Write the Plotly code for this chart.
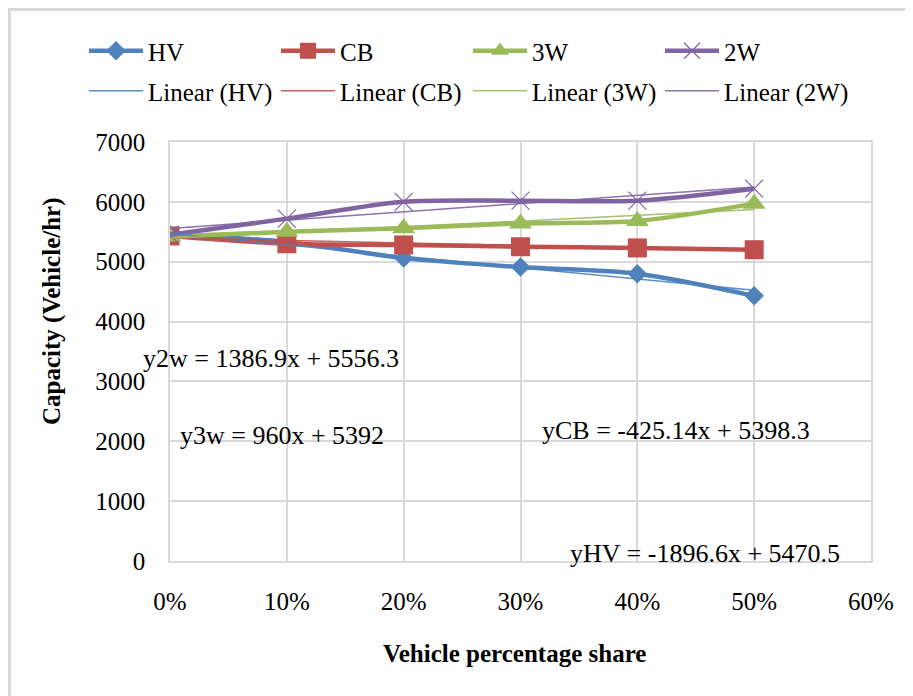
import plotly.graph_objects as go

# ---- data ----
share = [0.0, 0.1, 0.2, 0.3, 0.4, 0.5]
hv = [5450, 5330, 5060, 4910, 4800, 4430]
cb = [5430, 5300, 5280, 5250, 5230, 5200]
w3 = [5420, 5500, 5560, 5640, 5680, 5970]
w2 = [5450, 5720, 6000, 6020, 6020, 6220]

series_names = ["HV", "CB", "3W", "2W"]
series_vals = [hv, cb, w3, w2]
colors = ["#4F81BD", "#C0504D", "#9BBB59", "#8064A2"]
symbols = ["diamond", "square", "triangle-up", "x-thin-open"]
msizes = [15, 19, 20, 18]

# trendline coefficients (slope, intercept) as shown on the chart
slopes = [-1896.6, -425.14, 960, 1386.9]
intercepts = [5470.5, 5398.3, 5392, 5556.3]
eq_labels = ["yHV", "yCB", "y3w", "y2w"]

FONT = "Liberation Serif"
W, H = 913, 696
L, R, T, B = 162, 50, 134, 143
PW, PH = W - L - R, H - T - B


def px_x(p):
    return (p - L) / PW


def px_y(p):
    return (H - B - p) / PH


fig = go.Figure()

for name, vals, c, s, ms in zip(series_names, series_vals, colors, symbols, msizes):
    mk = dict(symbol=s, size=ms, color=c)
    if s == "x-thin-open":
        mk["line"] = dict(color=c, width=1.2)
    fig.add_trace(go.Scatter(
        x=share, y=vals, name=name, mode="lines+markers",
        line=dict(color=c, width=4.5, shape="spline", smoothing=0.8),
        marker=mk, legend="legend"))

for name, c, m, b in zip(series_names, colors, slopes, intercepts):
    xs = [share[0], share[-1]]
    ys = [m * x + b for x in xs]
    fig.add_trace(go.Scatter(
        x=xs, y=ys, name=f"Linear ({name})", mode="lines",
        line=dict(color=c, width=1.5), opacity=0.9, legend="legend2"))


def fmt(v):
    return f"{v:g}"


def eq_text(lbl, m, b):
    sign = "+" if b >= 0 else "-"
    return f"{lbl} = {fmt(m)}x {sign} {fmt(abs(b))}"


# equation label positions (pixel left edge, pixel center y)
eq_pos = {"yHV": (560, 545), "yCB": (532, 422), "y3w": (170, 427), "y2w": (133, 350)}
for lbl, m, b in zip(eq_labels, slopes, intercepts):
    x0, y0 = eq_pos[lbl]
    fig.add_annotation(x=px_x(x0), y=px_y(y0), xref="paper", yref="paper",
                       text=eq_text(lbl, m, b), showarrow=False,
                       xanchor="left", yanchor="middle",
                       font=dict(family=FONT, size=26, color="black"))

# axis titles
fig.add_annotation(x=px_x(506), y=px_y(645), xref="paper", yref="paper",
                   text="<b>Vehicle percentage share</b>", showarrow=False,
                   xanchor="center", yanchor="middle",
                   font=dict(family=FONT, size=25, color="black"))
fig.add_annotation(x=px_x(44), y=px_y(303), xref="paper", yref="paper",
                   text="<b>Capacity (Vehicle/hr)</b>", showarrow=False,
                   textangle=-90, xanchor="center", yanchor="middle",
                   font=dict(family=FONT, size=25, color="black"))

# outer chart border
fig.add_shape(type="rect", xref="paper", yref="paper",
              x0=px_x(1.5), x1=px_x(930), y0=px_y(710), y1=px_y(1.5),
              line=dict(color="#D9D9D9", width=3), fillcolor="rgba(0,0,0,0)",
              layer="below")

grid = "#D9D9D9"
fig.update_layout(
    width=W, height=H,
    margin=dict(l=L, r=R, t=T, b=B, autoexpand=False),
    paper_bgcolor="white", plot_bgcolor="white",
    font=dict(family=FONT, size=25, color="black"),
    xaxis=dict(range=[0, 0.6], dtick=0.1, tick0=0, tickformat=".0%",
               showgrid=True, gridcolor=grid, gridwidth=1.5,
               zeroline=False, showline=True, linecolor=grid, linewidth=1.5,
               mirror=True, ticks="", ticklabelstandoff=17,
               tickfont=dict(family=FONT, size=25)),
    yaxis=dict(range=[0, 7000], dtick=1000, tick0=0,
               showgrid=True, gridcolor=grid, gridwidth=1.5,
               zeroline=False, showline=True, linecolor=grid, linewidth=1.5,
               mirror=True, ticks="", ticklabelstandoff=18,
               tickfont=dict(family=FONT, size=25)),
    legend=dict(orientation="h", x=px_x(76), y=px_y(20), xanchor="left", yanchor="top",
                entrywidth=123, entrywidthmode="pixels", itemwidth=54,
                font=dict(family=FONT, size=25), bgcolor="rgba(0,0,0,0)"),
    legend2=dict(orientation="h", x=px_x(76), y=px_y(60), xanchor="left", yanchor="top",
                 entrywidth=123, entrywidthmode="pixels", itemwidth=54,
                 font=dict(family=FONT, size=25), bgcolor="rgba(0,0,0,0)"),
    showlegend=True,
)

fig.write_html("out.html")
